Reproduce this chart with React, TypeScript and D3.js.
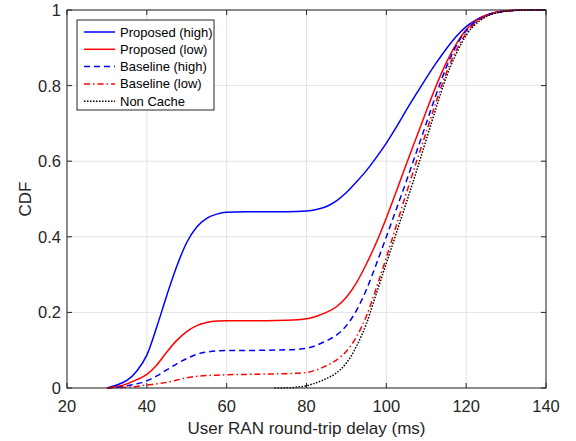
import React from "react";
import * as d3 from "d3";

const xs = [30, 32.5, 35, 37.5, 40, 42.5, 45, 47.5, 50, 52.5, 55, 57.5, 60, 65, 70, 75, 80, 82.5, 85, 87.5, 90, 92.5, 95, 97.5, 100, 102.5, 105, 107.5, 110, 112.5, 115, 117.5, 120, 122.5, 125, 127.5, 130, 135, 140];

const proposedHigh = [0, 0.008, 0.02, 0.045, 0.087, 0.162, 0.245, 0.322, 0.385, 0.426, 0.449, 0.46, 0.465, 0.466, 0.466, 0.466, 0.468, 0.472, 0.48, 0.495, 0.517, 0.545, 0.575, 0.61, 0.648, 0.69, 0.735, 0.778, 0.82, 0.86, 0.897, 0.93, 0.956, 0.974, 0.986, 0.994, 0.997, 1, 1];
const proposedLow = [0, 0.004, 0.011, 0.022, 0.036, 0.061, 0.095, 0.126, 0.149, 0.165, 0.173, 0.177, 0.178, 0.178, 0.178, 0.179, 0.183, 0.19, 0.2, 0.215, 0.24, 0.278, 0.328, 0.385, 0.45, 0.52, 0.592, 0.662, 0.732, 0.8, 0.86, 0.91, 0.948, 0.972, 0.986, 0.994, 0.998, 1, 1];
const baselineHigh = [0, 0.002, 0.006, 0.011, 0.019, 0.032, 0.048, 0.064, 0.078, 0.089, 0.095, 0.098, 0.099, 0.099, 0.1, 0.101, 0.105, 0.113, 0.125, 0.14, 0.165, 0.205, 0.26, 0.328, 0.4, 0.473, 0.547, 0.623, 0.7, 0.777, 0.848, 0.905, 0.945, 0.97, 0.985, 0.993, 0.997, 1, 1];
const baselineLow = [0, 0.001, 0.002, 0.004, 0.008, 0.011, 0.015, 0.021, 0.027, 0.031, 0.033, 0.034, 0.035, 0.036, 0.037, 0.038, 0.041, 0.048, 0.059, 0.074, 0.097, 0.135, 0.19, 0.265, 0.345, 0.43, 0.515, 0.597, 0.677, 0.758, 0.833, 0.893, 0.938, 0.967, 0.984, 0.993, 0.997, 1, 1];
const nonCacheX = [72, 75, 77.5, 80, 82.5, 85, 87.5, 90, 92.5, 95, 97.5, 100, 102.5, 105, 107.5, 110, 112.5, 115, 117.5, 120, 122.5, 125, 127.5, 130, 135, 140];
const nonCache = [0, 0.0005, 0.002, 0.006, 0.014, 0.025, 0.04, 0.066, 0.11, 0.17, 0.25, 0.33, 0.41, 0.49, 0.572, 0.657, 0.742, 0.822, 0.884, 0.933, 0.964, 0.982, 0.992, 0.997, 1, 1];

const seriesNames = ["Proposed (high)", "Proposed (low)", "Baseline (high)", "Baseline (low)", "Non Cache"];
const xTicks = [20, 40, 60, 80, 100, 120, 140];
const yTicks = [0, 0.2, 0.4, 0.6, 0.8, 1];
const xLabel = "User RAN round-trip delay (ms)";
const yLabel = "CDF";

const W = 576, H = 441;
const L = 67, R = 546, T = 10, B = 388;
const AX = "#262626";
const FONT = "Arial, 'Liberation Sans', Helvetica, sans-serif";

export default function App() {
  const x = d3.scaleLinear().domain([20, 140]).range([L, R]);
  const y = d3.scaleLinear().domain([0, 1]).range([B, T]);
  const line = d3.line<[number, number]>().x(d => x(d[0])).y(d => y(d[1])).curve(d3.curveMonotoneX);

  const series = [
    { name: seriesNames[0], xv: xs, yv: proposedHigh, color: "#0000ff", dash: undefined },
    { name: seriesNames[1], xv: xs, yv: proposedLow, color: "#ff0000", dash: undefined },
    { name: seriesNames[2], xv: xs, yv: baselineHigh, color: "#0000ff", dash: "6,4" },
    { name: seriesNames[3], xv: xs, yv: baselineLow, color: "#ff0000", dash: "6,3,1.5,3" },
    { name: seriesNames[4], xv: nonCacheX, yv: nonCache, color: "#000000", dash: "1.5,1.5" },
  ];

  const tickLen = 5;
  const legX = 77, legY = 20, legW = 137, legH = 90, rowH = 17.3;

  return (
    <svg width={W} height={H} style={{ position: "absolute", left: 0, top: 0 }} fontFamily={FONT}>
      <rect x={0} y={0} width={W} height={H} fill="#fff" />
      <rect x={L} y={T} width={R - L} height={B - T} fill="#fff" />
      {xTicks.map(t => (
        <line key={"gx" + t} x1={x(t)} x2={x(t)} y1={T} y2={B} stroke="#e3e3e3" strokeWidth={1} />
      ))}
      {yTicks.map(t => (
        <line key={"gy" + t} x1={L} x2={R} y1={y(t)} y2={y(t)} stroke="#e3e3e3" strokeWidth={1} />
      ))}
      <defs>
        <clipPath id="clip"><rect x={L} y={T - 2} width={R - L} height={B - T + 4} /></clipPath>
      </defs>
      <g clipPath="url(#clip)">
        {series.map(s => (
          <path key={s.name} d={line(s.xv.map((v, i) => [v, s.yv[i]]) as [number, number][]) || ""}
            fill="none" stroke={s.color} strokeWidth={1.5} strokeDasharray={s.dash} />
        ))}
      </g>
      <rect x={L} y={T} width={R - L} height={B - T} fill="none" stroke={AX} strokeWidth={1} />
      {xTicks.map(t => (
        <g key={"tx" + t}>
          <line x1={x(t)} x2={x(t)} y1={B} y2={B - tickLen} stroke={AX} />
          <line x1={x(t)} x2={x(t)} y1={T} y2={T + tickLen} stroke={AX} />
          <text x={x(t)} y={B + 24} textAnchor="middle" fontSize={16.5} fill={AX}>{t}</text>
        </g>
      ))}
      {yTicks.map(t => (
        <g key={"ty" + t}>
          <line x1={L} x2={L + tickLen} y1={y(t)} y2={y(t)} stroke={AX} />
          <line x1={R} x2={R - tickLen} y1={y(t)} y2={y(t)} stroke={AX} />
          <text x={L - 6} y={y(t) + 6} textAnchor="end" fontSize={16.5} fill={AX}>{t}</text>
        </g>
      ))}
      <text x={(L + R) / 2} y={B + 46} textAnchor="middle" fontSize={17} fill={AX}>{xLabel}</text>
      <text transform={`translate(31,${(T + B) / 2}) rotate(-90)`} textAnchor="middle" fontSize={17} fill={AX}>{yLabel}</text>
      <rect x={legX} y={legY} width={legW} height={legH} fill="#fff" stroke={AX} strokeWidth={1} />
      {series.map((s, i) => {
        const cy = legY + 12 + i * rowH;
        return (
          <g key={"leg" + i}>
            <line x1={84} x2={115} y1={cy} y2={cy} stroke={s.color} strokeWidth={1.5} strokeDasharray={s.dash} />
            <text x={120} y={cy + 4.5} fontSize={13} fill="#000">{s.name}</text>
          </g>
        );
      })}
    </svg>
  );
}
